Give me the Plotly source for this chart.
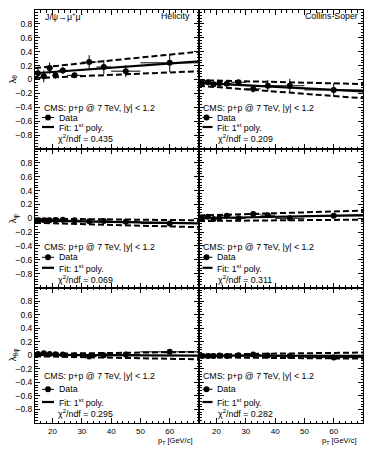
import plotly.graph_objects as go
from plotly.subplots import make_subplots

# ---------------- data ----------------
pt = [15, 17, 19, 21, 23.5, 27.5, 32.5, 37.5, 45, 60]
pt_err = [1, 1, 1, 1, 1.5, 2.5, 2.5, 2.5, 5, 10]

lth_hx = [0.09, 0.045, 0.165, 0.06, 0.13, 0.06, 0.25, 0.18, 0.12, 0.24]
lth_hx_err = [0.065, 0.085, 0.08, 0.05, 0.05, 0.04, 0.10, 0.10, 0.085, 0.13]
lth_cs = [-0.05, -0.04, -0.07, -0.055, -0.06, -0.04, -0.135, -0.09, -0.09, -0.15]
lth_cs_err = [0.03, 0.03, 0.03, 0.03, 0.03, 0.03, 0.05, 0.08, 0.10, 0.10]
lph_hx = [-0.03, -0.03, -0.03, -0.025, -0.02, -0.03, -0.045, -0.04, -0.05, -0.075]
lph_hx_err = [0.015, 0.015, 0.015, 0.015, 0.015, 0.02, 0.02, 0.02, 0.025, 0.03]
lph_cs = [0.0, 0.02, -0.01, 0.01, 0.035, 0.0, 0.06, 0.045, 0.0, 0.035]
lph_cs_err = [0.02, 0.02, 0.02, 0.02, 0.02, 0.02, 0.03, 0.03, 0.04, 0.04]
ltp_hx = [0.02, 0.03, 0.02, 0.015, 0.01, 0.0, -0.02, 0.0, 0.01, 0.05]
ltp_hx_err = [0.015, 0.015, 0.015, 0.015, 0.015, 0.02, 0.02, 0.02, 0.025, 0.03]
ltp_cs = [-0.01, -0.01, -0.01, -0.005, -0.01, 0.0, 0.01, -0.005, -0.01, -0.035]
ltp_cs_err = [0.015, 0.015, 0.015, 0.015, 0.015, 0.02, 0.02, 0.02, 0.025, 0.03]

# fit lines: value at the two ends of the pT range
fit_x = [14, 70]
fit_thx = [0.09, 0.26]
fit_thx_up = [0.165, 0.40]
fit_thx_dn = [0.02, 0.12]
fit_tcs = [-0.05, -0.17]
fit_tcs_up = [-0.01, -0.065]
fit_tcs_dn = [-0.09, -0.27]
fit_phx = [-0.035, -0.075]
fit_phx_up = [-0.005, -0.03]
fit_phx_dn = [-0.065, -0.13]
fit_pcs = [0.0, 0.045]
fit_pcs_up = [0.04, 0.11]
fit_pcs_dn = [-0.04, -0.02]
fit_tphx = [0.005, -0.005]
fit_tphx_up = [0.02, 0.05]
fit_tphx_dn = [-0.015, -0.06]
fit_tpcs = [-0.005, -0.01]
fit_tpcs_up = [0.01, 0.04]
fit_tpcs_dn = [-0.03, -0.05]

chi2 = ["0.435", "0.209", "0.069", "0.311", "0.295", "0.282"]
ytitles = ["λ<sub>θ</sub>", "λ<sub>φ</sub>", "λ<sub>θφ</sub>"]
frames = ["Helicity", "Collins-Soper"]
x_ticks = [20, 30, 40, 50, 60]
y_ticks = [-0.8, -0.6, -0.4, -0.2, 0, 0.2, 0.4, 0.6, 0.8]

panels = [
    (1, 1, lth_hx, lth_hx_err, fit_thx, fit_thx_up, fit_thx_dn),
    (1, 2, lth_cs, lth_cs_err, fit_tcs, fit_tcs_up, fit_tcs_dn),
    (2, 1, lph_hx, lph_hx_err, fit_phx, fit_phx_up, fit_phx_dn),
    (2, 2, lph_cs, lph_cs_err, fit_pcs, fit_pcs_up, fit_pcs_dn),
    (3, 1, ltp_hx, ltp_hx_err, fit_tphx, fit_tphx_up, fit_tphx_dn),
    (3, 2, ltp_cs, ltp_cs_err, fit_tpcs, fit_tpcs_up, fit_tpcs_dn),
]

# ---------------- layout geometry (pixels) ----------------
W, H = 373, 454
ML, MR, MT, MB = 35, 10, 10, 31
PW, PH = W - ML - MR, H - MT - MB
row_edges = [10, 149, 287.5, 423]
col_edges = [35, 199, 363]


def px(x):
    return (x - ML) / PW


def py(y):
    return (H - MB - y) / PH


FONT = "Liberation Sans, Arial, Helvetica, sans-serif"

fig = make_subplots(rows=3, cols=2, horizontal_spacing=0, vertical_spacing=0)

for (r, c, y, ye, f, fu, fd) in panels:
    fig.add_hline(y=0, row=r, col=c, line=dict(color="black", width=1.8, dash="6px,3px"))
    for band in (fu, fd):
        fig.add_trace(go.Scatter(x=fit_x, y=band, mode="lines",
                                 line=dict(color="black", width=2, dash="6px,3px"),
                                 showlegend=False, hoverinfo="skip"), row=r, col=c)
    fig.add_trace(go.Scatter(x=fit_x, y=f, mode="lines",
                             line=dict(color="black", width=2.2),
                             showlegend=False, hoverinfo="skip"), row=r, col=c)
    fig.add_trace(go.Scatter(x=pt, y=y, mode="markers",
                             marker=dict(color="black", size=6, symbol="circle"),
                             error_x=dict(type="data", array=pt_err, color="black", thickness=1, width=0),
                             error_y=dict(type="data", array=ye, color="black", thickness=1, width=0),
                             showlegend=False), row=r, col=c)

# domains
for r in range(1, 4):
    for c in range(1, 3):
        i = (r - 1) * 2 + c
        sx = "" if i == 1 else str(i)
        fig.layout["xaxis" + sx].domain = [px(col_edges[c - 1]), px(col_edges[c])]
        fig.layout["yaxis" + sx].domain = [py(row_edges[r]), py(row_edges[r - 1])]

fig.update_xaxes(range=[14, 70], tickmode="array", tickvals=x_ticks,
                 ticks="inside", ticklen=5, tickwidth=1, tickcolor="black",
                 showline=True, linecolor="black", linewidth=1, mirror="ticks",
                 showgrid=False, zeroline=False,
                 minor=dict(ticks="inside", ticklen=2.5, tickmode="linear", dtick=2, tick0=0,
                            tickcolor="black", showgrid=False),
                 tickfont=dict(family=FONT, size=8, color="black"))
fig.update_yaxes(range=[-1, 1], tickmode="array", tickvals=y_ticks,
                 ticktext=[("%g" % v).replace("-", "−") for v in y_ticks],
                 ticks="inside", ticklen=5, tickwidth=1, tickcolor="black",
                 showline=True, linecolor="black", linewidth=1, mirror="ticks",
                 showgrid=False, zeroline=False,
                 minor=dict(ticks="inside", ticklen=2.5, tickmode="linear", dtick=0.04, tick0=0,
                            tickcolor="black", showgrid=False),
                 tickfont=dict(family=FONT, size=8.5, color="black"))
for r in (1, 2):
    for c in (1, 2):
        fig.update_xaxes(showticklabels=False, row=r, col=c)
for r in (1, 2, 3):
    fig.update_yaxes(showticklabels=False, row=r, col=2)

ann = []
shapes = []
TF = dict(family=FONT, size=8.8, color="black")

# y axis titles
for r in range(3):
    yc = (row_edges[r] + row_edges[r + 1]) / 2
    ann.append(dict(x=px(13), y=py(yc), xref="paper", yref="paper", text=ytitles[r],
                    textangle=-90, showarrow=False, xanchor="center", yanchor="middle",
                    font=dict(family=FONT, size=9.5, color="black")))

# x axis titles
for c in range(2):
    ann.append(dict(x=px(col_edges[c + 1] - 5), y=py(441), xref="paper", yref="paper",
                    text="p<sub>T</sub> [GeV/c]", showarrow=False, xanchor="right", yanchor="middle",
                    font=dict(family=FONT, size=7.5, color="black")))

# frame labels
ann.append(dict(x=px(43), y=py(16), xref="paper", yref="paper", text="J/ψ→μ<sup>+</sup>μ<sup>-</sup>",
                showarrow=False, xanchor="left", yanchor="middle", font=TF))
ann.append(dict(x=px(192), y=py(16), xref="paper", yref="paper", text=frames[0],
                showarrow=False, xanchor="right", yanchor="middle", font=TF))
ann.append(dict(x=px(360), y=py(16), xref="paper", yref="paper", text=frames[1],
                showarrow=False, xanchor="right", yanchor="middle", font=TF))

# legends per panel
row_text_y = [
    [108.0, 117.5, 127.0, 137.8],
    [246.7, 257.3, 267.8, 278.8],
    [376.0, 389.3, 402.0, 413.3],
]
col_x = [
    dict(cms=41.7, l0=42, l1=54, mk=48, txt=57.3, chi=55.7),
    dict(cms=201, l0=202.5, l1=212.5, mk=206.5, txt=214.5, chi=215.5),
]
for (r, c, *_), chi in zip(panels, chi2):
    yy = row_text_y[r - 1]
    cx = col_x[c - 1]
    ann.append(dict(x=px(cx["cms"]), y=py(yy[0]), xref="paper", yref="paper",
                    text="CMS: p+p @ 7 TeV, |y| < 1.2", showarrow=False,
                    xanchor="left", yanchor="middle", font=TF))
    ann.append(dict(x=px(cx["txt"]), y=py(yy[1]), xref="paper", yref="paper",
                    text="Data", showarrow=False, xanchor="left", yanchor="middle", font=TF))
    ann.append(dict(x=px(cx["txt"]), y=py(yy[2]), xref="paper", yref="paper",
                    text="Fit: 1<sup>st</sup> poly.", showarrow=False, xanchor="left", yanchor="middle", font=TF))
    ann.append(dict(x=px(cx["chi"]), y=py(yy[3]), xref="paper", yref="paper",
                    text="χ<sup>2</sup>/ndf = " + chi, showarrow=False, xanchor="left", yanchor="middle", font=TF))
    shapes.append(dict(type="line", xref="paper", yref="paper",
                       x0=px(cx["l0"]), x1=px(cx["l1"]), y0=py(yy[1]), y1=py(yy[1]),
                       line=dict(color="black", width=1)))
    shapes.append(dict(type="circle", xref="paper", yref="paper",
                       x0=px(cx["mk"] - 3), x1=px(cx["mk"] + 3), y0=py(yy[1] - 3), y1=py(yy[1] + 3),
                       fillcolor="black", line=dict(color="black", width=0)))
    shapes.append(dict(type="line", xref="paper", yref="paper",
                       x0=px(cx["l0"]), x1=px(cx["l1"]), y0=py(yy[2]), y1=py(yy[2]),
                       line=dict(color="black", width=2.2)))

fig.update_layout(width=W, height=H, margin=dict(l=ML, r=MR, t=MT, b=MB),
                  paper_bgcolor="white", plot_bgcolor="white",
                  showlegend=False, annotations=ann,
                  shapes=list(fig.layout.shapes) + shapes,
                  font=dict(family=FONT, color="black"))

fig.write_html("out.html", config={"displayModeBar": False},
               post_script="document.body.style.margin='0';document.body.style.overflow='hidden';")
